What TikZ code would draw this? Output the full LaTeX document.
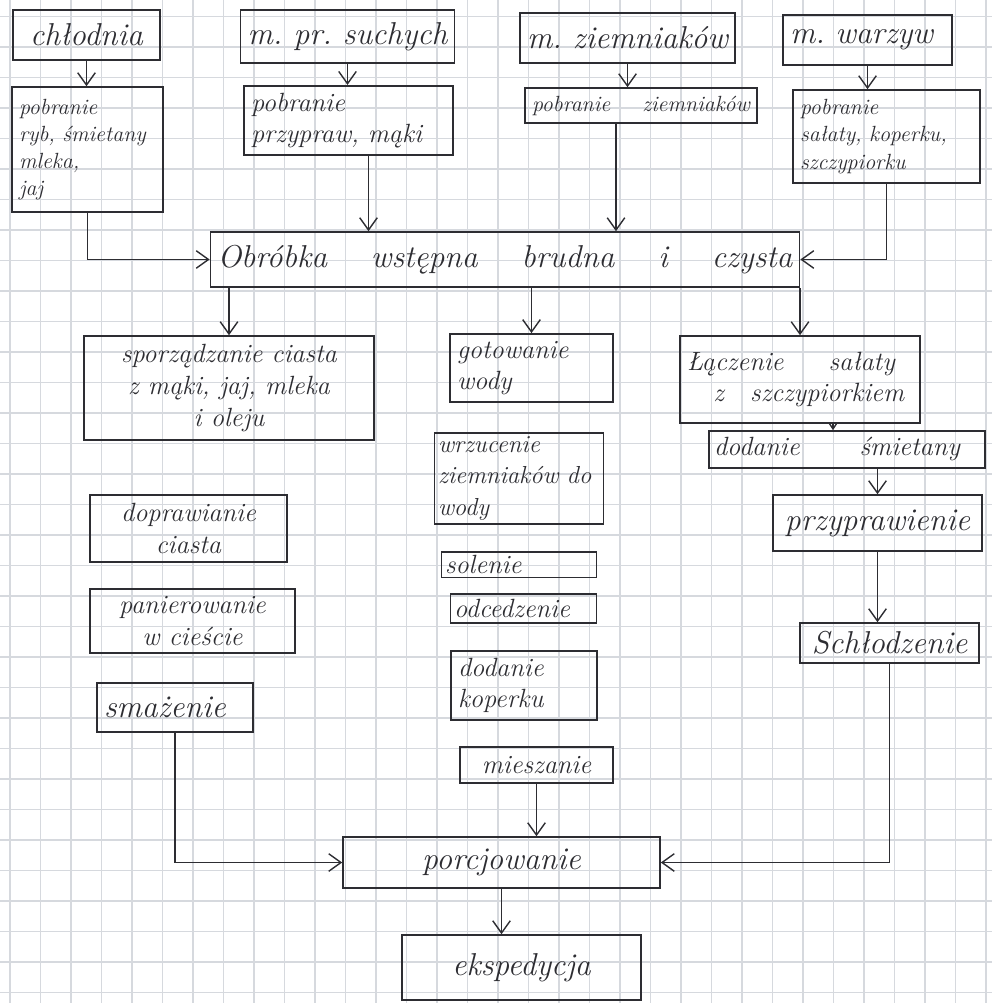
\documentclass[tikz,border=0pt]{standalone}
\usepackage{tikz}
\usetikzlibrary{arrows.meta}
\newcommand{\hand}{\itshape\fontsize{15}{18}\selectfont}
\newcommand{\handsmall}{\itshape\fontsize{12.5}{15.5}\selectfont}
\newcommand{\handmid}{\itshape\fontsize{14}{18}\selectfont}
\newcommand{\handbig}{\itshape\fontsize{18}{21}\selectfont}
\definecolor{gridcol}{RGB}{214,217,222}
\definecolor{ink}{RGB}{45,45,50}
\tikzset{
  box/.style={draw=ink, line width=0.9pt, inner sep=4pt, font=\hand, text=ink, align=center},
  lbox/.style={box, align=left, text width=#1},
  flow/.style={draw=ink, line width=0.8pt, ->},
  gridline/.style={draw=gridcol, line width=0.7pt}
}
\begin{document}
\begin{tikzpicture}[>={Straight Barb[length=7pt,width=10pt]}]
\useasboundingbox (0,0) rectangle (19.84,-20.06);
\begin{scope}
\clip (0,0) rectangle (19.84,-20.06);
\draw[gridline, xshift=2mm, yshift=-3.3mm] (-1,1) grid[step=6.1mm] (21,-21);
\end{scope}

\node[box, font=\handbig, minimum width=2.94cm, minimum height=1cm] (chlodnia) at (1.73,-0.70) {chłodnia};
\node[box, font=\handbig, minimum width=4.02cm, minimum height=1.06cm] (suche) at (6.95,-0.73) {m.\ pr.\ suchych};
\node[box, font=\handbig, minimum width=4.18cm, minimum height=1cm] (ziemn) at (12.55,-0.76) {m.\ ziemniaków};
\node[lbox=3.1cm, font=\handbig, minimum height=1cm] (warzyw) at (17.35,-0.80) {m.\ warzyw};

\node[lbox=2.74cm, font=\handsmall, minimum height=2.5cm] (pobrRyb) at (1.75,-2.99) {pobranie\\ryb, śmietany\\mleka,\\jaj};
\node[lbox=3.9cm, minimum height=1.3cm] (pobrPrzyp) at (6.97,-2.41) {pobranie\\przypraw, mąki};
\node[lbox=4.36cm, font=\handsmall, minimum height=0.7cm] (pobrZiemn) at (12.82,-2.11) {pobranie\hfill ziemniaków};
\node[lbox=3.46cm, font=\handsmall, minimum height=1.86cm] (pobrSal) at (17.73,-2.73) {pobranie\\sałaty, koperku,\\szczypiorku};

\node[lbox=11.5cm, font=\handbig, minimum height=1.1cm] (obrobka) at (10.10,-5.19) {Obróbka\hfill wstępna\hfill brudna\hfill i\hfill czysta};

\node[box, minimum width=5.8cm, minimum height=2.08cm] (ciasto) at (4.58,-7.76) {sporządzanie ciasta\\z mąki, jaj, mleka\\i oleju};
\node[lbox=2.98cm, minimum height=1.28cm] (gotow) at (10.63,-7.36) {gotowanie\\wody};
\node[lbox=4.52cm, minimum height=1.74cm] (laczenie) at (16.0,-7.59) {Łączenie\hspace{9mm}sałaty\\\quad z\quad szczypiorkiem};

\node[box, minimum width=3.94cm, minimum height=1.34cm] (doprawianie) at (3.77,-10.57) {doprawianie\\ciasta};
\node[box, minimum width=4.1cm, minimum height=1.28cm] (panier) at (3.85,-12.42) {panierowanie\\w cieście};
\node[lbox=2.84cm, font=\handbig, minimum height=0.98cm] (smazenie) at (3.50,-14.15) {smażenie};

\node[lbox=3.24cm, font=\handmid, inner sep=2pt, minimum height=1.82cm] (wrzuc) at (10.38,-9.57) {wrzucenie\\ziemniaków do\\wody};
\node[lbox=2.96cm, inner sep=2pt, minimum height=0.5cm] (solenie) at (10.38,-11.29) {solenie};
\node[lbox=2.78cm, inner sep=2pt, minimum height=0.58cm] (odcedz) at (10.47,-12.17) {odcedzenie};
\node[lbox=2.64cm, minimum height=1.3cm] (koperek) at (10.48,-13.71) {dodanie\\koperku};
\node[box, minimum width=3.06cm, minimum height=0.72cm] (mieszanie) at (10.73,-15.30) {mieszanie};

\node[lbox=5.32cm, minimum height=0.74cm, inner sep=3pt] (smietana) at (16.94,-8.99) {dodanie\hspace{1.2cm}śmietany};
\node[box, font=\handbig, minimum width=4.18cm, minimum height=1.12cm] (przypr) at (17.55,-10.46) {przyprawienie};
\node[box, font=\handbig, minimum width=3.58cm, minimum height=0.8cm, inner sep=2pt] (schlodz) at (17.79,-12.86) {Schłodzenie};

\node[box, font=\handbig, minimum width=6.34cm, minimum height=1.02cm] (porcjow) at (10.03,-17.25) {porcjowanie};
\node[box, font=\handbig, minimum width=4.78cm, minimum height=1.3cm] (ekspedycja) at (10.43,-19.35) {ekspedycja};

\draw[flow] (chlodnia.south) -- (chlodnia.south |- pobrRyb.north);
\draw[flow] (suche.south) -- (suche.south |- pobrPrzyp.north);
\draw[flow] (ziemn.south) -- (ziemn.south |- pobrZiemn.north);
\draw[flow] (warzyw.south) -- (warzyw.south |- pobrSal.north);

\draw[flow] (pobrRyb.south) |- (obrobka.west);
\draw[flow] ([xshift=4mm]pobrPrzyp.south) -- ([xshift=4mm]pobrPrzyp.south |- obrobka.north);
\draw[flow] ([xshift=-5mm]pobrZiemn.south) -- ([xshift=-5mm]pobrZiemn.south |- obrobka.north);
\draw[flow] (pobrSal.south) |- (obrobka.east);

\draw[flow] (obrobka.south -| ciasto) -- (ciasto.north);
\draw[flow] (obrobka.south -| gotow) -- (gotow.north);
\draw[flow] (obrobka.south -| laczenie) -- (laczenie.north);

\draw[flow, -{Straight Barb[length=3pt,width=4pt]}] ([xshift=6.6mm]laczenie.south) -- ([xshift=6.6mm]laczenie.south |- smietana.north);
\draw[flow] (smietana.south -| przypr) -- (przypr.north);
\draw[flow] (przypr.south) -- (przypr.south |- schlodz.north);
\draw[flow] (schlodz.south) |- (porcjow.east);
\draw[flow] (smazenie.south) |- (porcjow.west);
\draw[flow] (mieszanie.south) -- (mieszanie.south |- porcjow.north);
\draw[flow] (porcjow.south) -- (porcjow.south |- ekspedycja.north);
\end{tikzpicture}
\end{document}
